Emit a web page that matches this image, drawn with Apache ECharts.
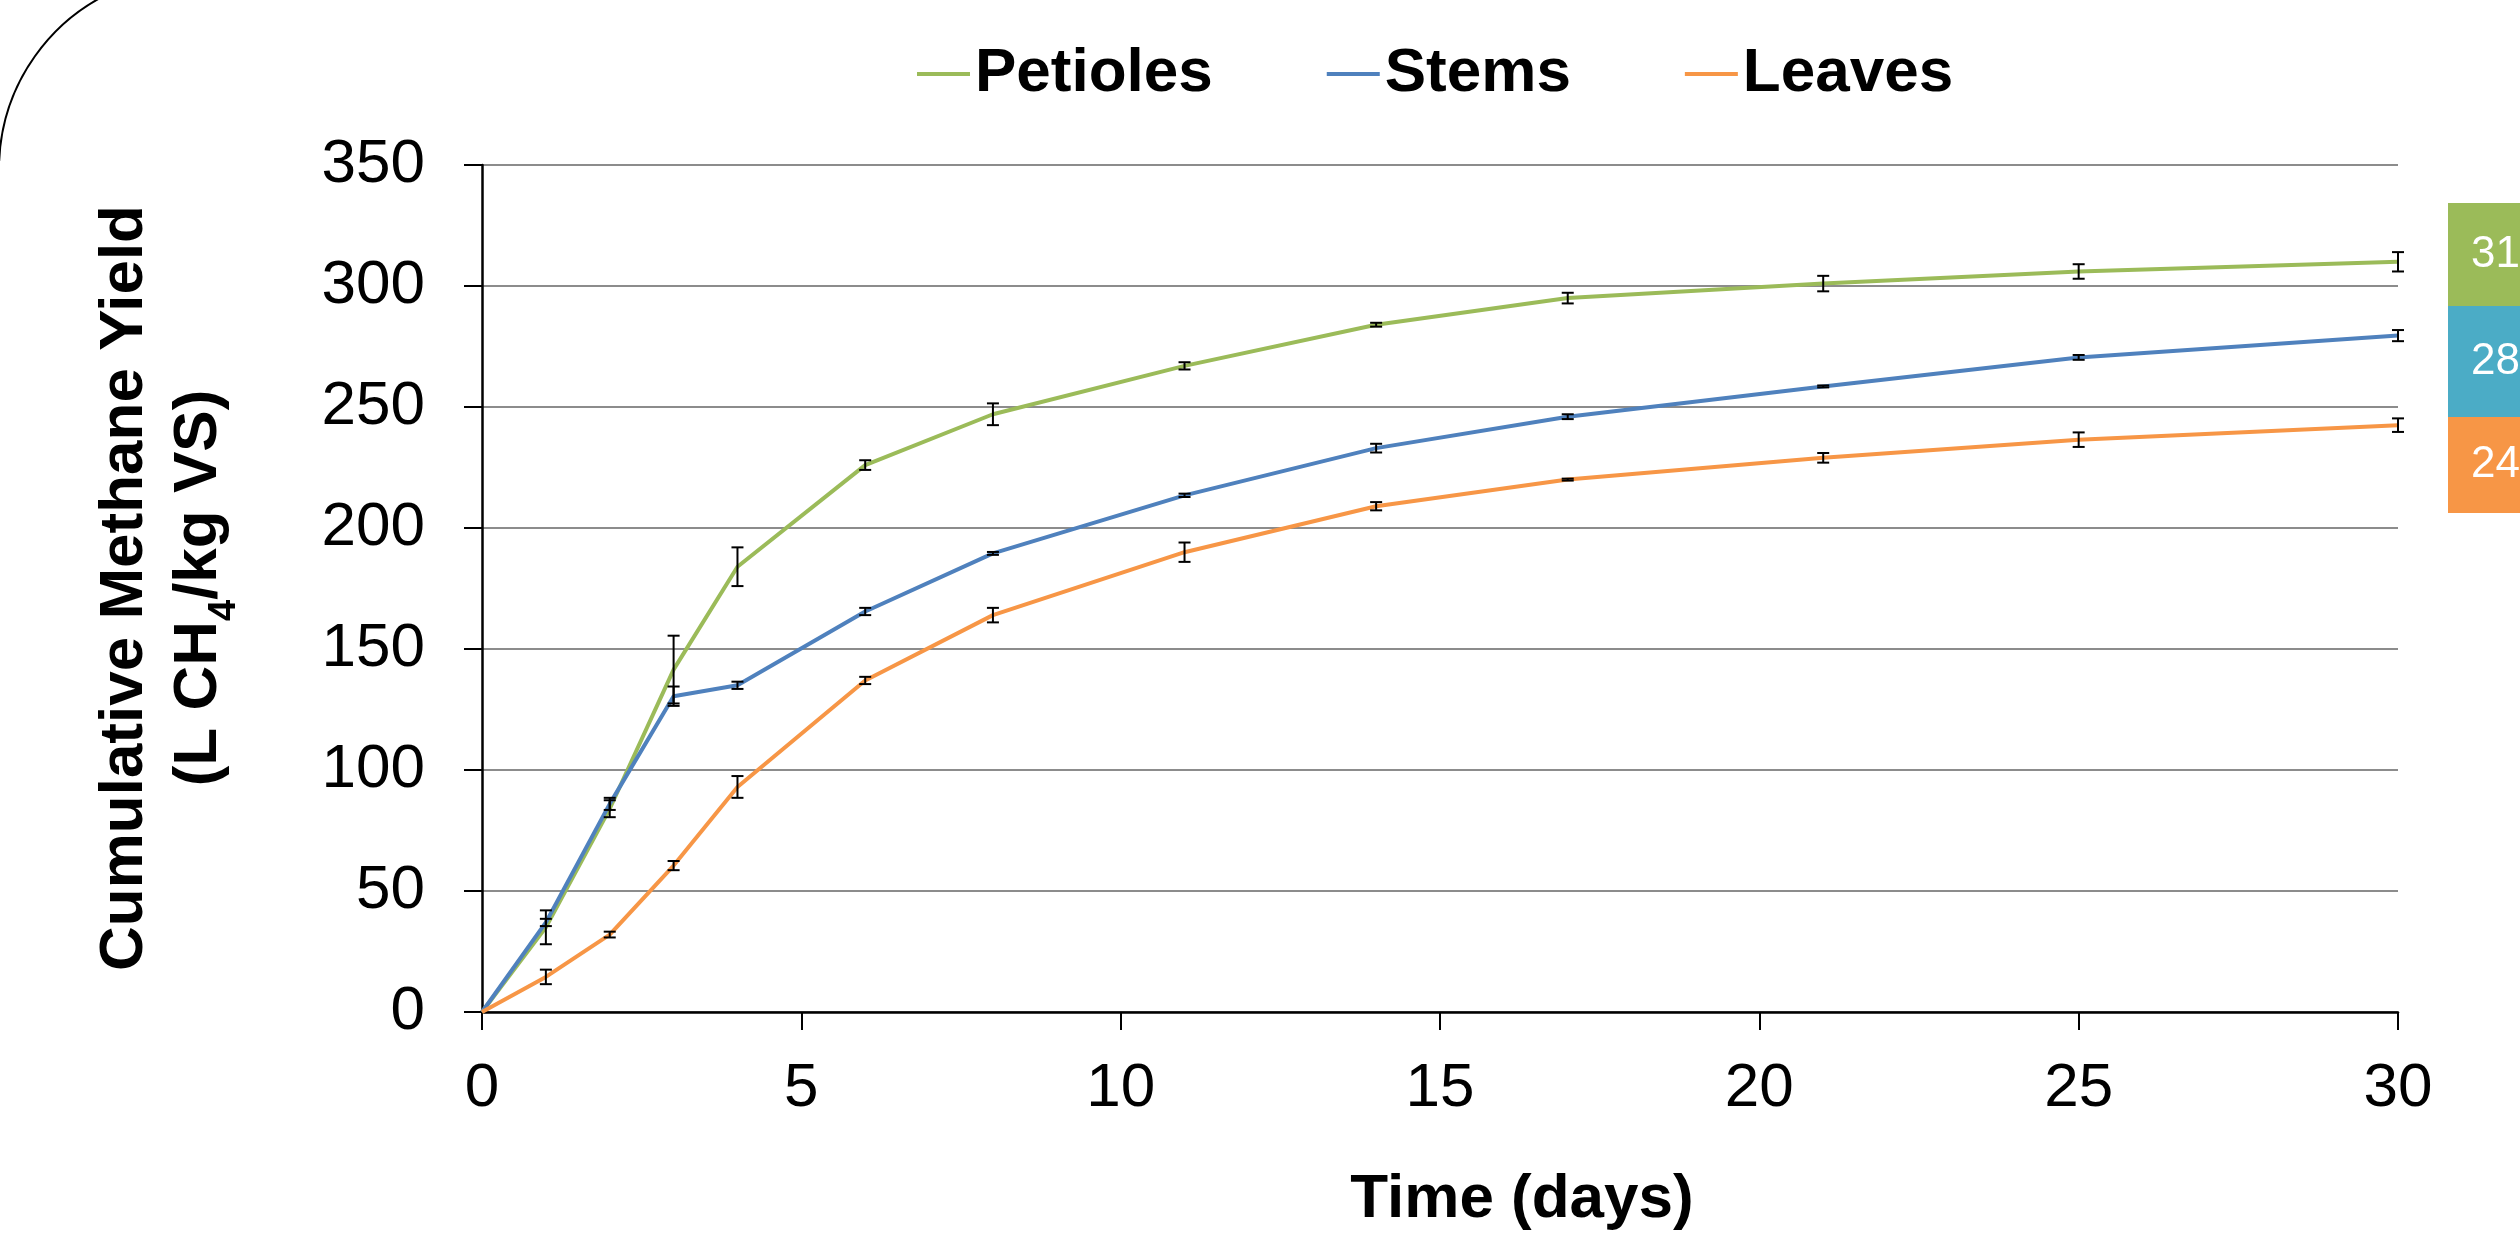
<!DOCTYPE html>
<html>
<head>
<meta charset="utf-8">
<title>Cumulative Methane Yield</title>
<script src="https://cdn.jsdelivr.net/npm/echarts@6/dist/echarts.min.js"></script>
<style>
  html, body { margin: 0; padding: 0; background: #fff; }
  #chart { width: 2520px; height: 1239px; }
</style>
</head>
<body>
<div id="chart"></div>
<script>
// 数据
var days = [0, 1, 2, 3, 4, 6, 8, 11, 14, 17, 21, 25, 30];
var seriesNames = ["Petioles", "Stems", "Leaves"];
var petioles = [0, 35, 84, 141.5, 184, 226, 247, 267, 284, 295, 301, 306, 310];
var petiolesErr = [0, 7, 3.5, 14, 8, 2, 4.5, 1.5, 0.8, 2.2, 3.2, 3, 4];
var stems = [0, 37, 86, 130.5, 135, 165.5, 189.5, 213.5, 233, 246, 258.5, 270.5, 279.5];
var stemsErr = [0, 1.5, 2.5, 4, 1.5, 1.5, 0.6, 0.7, 1.8, 1, 0.4, 1, 2.3];
var leaves = [0, 14.5, 32, 60.5, 93, 137, 164, 190, 209, 220, 229, 236.5, 242.5];
var leavesErr = [0, 3, 1.2, 1.9, 4.5, 1.5, 3, 4, 1.7, 0.4, 2, 3, 2.8];
var yTicks = [0, 350, 50]; // min, max, interval
var xTicks = [0, 30, 5];
var sideLabels = ["31", "28", "24"];

(function () {
  var myChart = echarts.init(document.querySelector("#chart"));
  var font = "'Liberation Sans', Arial, sans-serif";
  var colors = ["#9BBB59", "#4F81BD", "#F79646"];
  var boxColors = ["#9BBB59", "#4BACC6", "#F79646"];
  var values = [petioles, stems, leaves];
  var errors = [petiolesErr, stemsErr, leavesErr];

  function pairs(arr) {
    return days.map(function (d, i) {
      return [d, arr[i]];
    });
  }
  function errData(arr, err) {
    return days.map(function (d, i) {
      return [d, arr[i], err[i]];
    });
  }

  // 误差线
  function errorBar(params, api) {
    var x = api.value(0);
    var y = api.value(1);
    var e = api.value(2);
    if (!e) return null;
    var top = api.coord([x, y + e]);
    var bot = api.coord([x, y - e]);
    var half = 6;
    var st = { stroke: "#000", lineWidth: 2 };
    return {
      type: "group",
      children: [
        { type: "line", shape: { x1: top[0], y1: top[1], x2: bot[0], y2: bot[1] }, style: st },
        { type: "line", shape: { x1: top[0] - half, y1: top[1], x2: top[0] + half, y2: top[1] }, style: st },
        { type: "line", shape: { x1: bot[0] - half, y1: bot[1], x2: bot[0] + half, y2: bot[1] }, style: st },
      ],
    };
  }

  var series = [];
  seriesNames.forEach(function (name, i) {
    series.push({
      name: name,
      type: "line",
      data: pairs(values[i]),
      symbol: "none",
      lineStyle: { color: colors[i], width: 4 },
      itemStyle: { color: colors[i] },
      z: 2,
    });
  });
  seriesNames.forEach(function (name, i) {
    series.push({
      name: name + " err",
      type: "custom",
      data: errData(values[i], errors[i]),
      renderItem: errorBar,
      clip: false,
      z: 3,
    });
  });

  // 右侧色块
  var boxes = [
    [203, 306],
    [306, 417],
    [417, 513],
  ];
  var graphics = [
    {
      type: "arc",
      shape: { cx: 194, cy: 169, r: 195, startAngle: -3.1, endAngle: -1.95, clockwise: true },
      style: { stroke: "#000", lineWidth: 2, fill: null },
    },
    {
      type: "text",
      x: 125,
      y: 588,
      rotation: Math.PI / 2,
      style: {
        text: "Cumulative Methane Yield",
        font: "bold 62px " + font,
        fill: "#000",
        align: "center",
        verticalAlign: "middle",
      },
    },
    {
      type: "text",
      x: 199,
      y: 588,
      rotation: Math.PI / 2,
      style: {
        text: "(L CH{sub|4}/kg VS)",
        font: "bold 62px " + font,
        fill: "#000",
        align: "center",
        verticalAlign: "middle",
        lineHeight: 90,
        rich: {
          sub: {
            font: "bold 38px " + font,
            fill: "#000",
            verticalAlign: "bottom",
            lineHeight: 38,
          },
        },
      },
    },
    {
      type: "text",
      x: 1522,
      y: 1200,
      style: {
        text: "Time (days)",
        font: "bold 62px " + font,
        fill: "#000",
        align: "center",
        verticalAlign: "middle",
      },
    },
  ];
  boxes.forEach(function (b, i) {
    graphics.push({
      type: "rect",
      shape: { x: 2448, y: b[0], width: 90, height: b[1] - b[0] },
      style: { fill: boxColors[i] },
    });
    graphics.push({
      type: "text",
      x: 2471,
      y: (b[0] + b[1]) / 2,
      style: {
        text: sideLabels[i],
        font: "44px " + font,
        fill: "#fff",
        align: "left",
        verticalAlign: "middle",
      },
    });
  });

  var option = {
    animation: false,
    backgroundColor: "#fff",
    textStyle: { fontFamily: font },
    legend: {
      data: seriesNames,
      left: 912,
      top: 38,
      icon: "rect",
      itemWidth: 53,
      itemHeight: 4,
      itemGap: 114,
      textStyle: { fontSize: 62, fontWeight: "bold", color: "#000", fontFamily: font },
    },
    grid: {
      left: 482,
      right: 122,
      top: 165,
      bottom: 227,
    },
    xAxis: {
      type: "value",
      min: xTicks[0],
      max: xTicks[1],
      interval: xTicks[2],
      axisLine: { show: true, lineStyle: { color: "#000", width: 2.5 } },
      axisTick: { show: true, length: 18, lineStyle: { color: "#000", width: 2 } },
      axisLabel: { fontSize: 62, color: "#000", margin: 46, fontFamily: font },
      splitLine: { show: false },
    },
    yAxis: {
      type: "value",
      min: yTicks[0],
      max: yTicks[1],
      interval: yTicks[2],
      axisLine: { show: true, lineStyle: { color: "#000", width: 2.5 } },
      axisTick: { show: true, length: 18, lineStyle: { color: "#000", width: 2 } },
      axisLabel: { fontSize: 62, color: "#000", margin: 57, fontFamily: font },
      splitLine: { show: true, lineStyle: { color: "#8c8c8c", width: 2 } },
    },
    graphic: graphics,
    series: series,
  };
  myChart.setOption(option);
})();
</script>
</body>
</html>
